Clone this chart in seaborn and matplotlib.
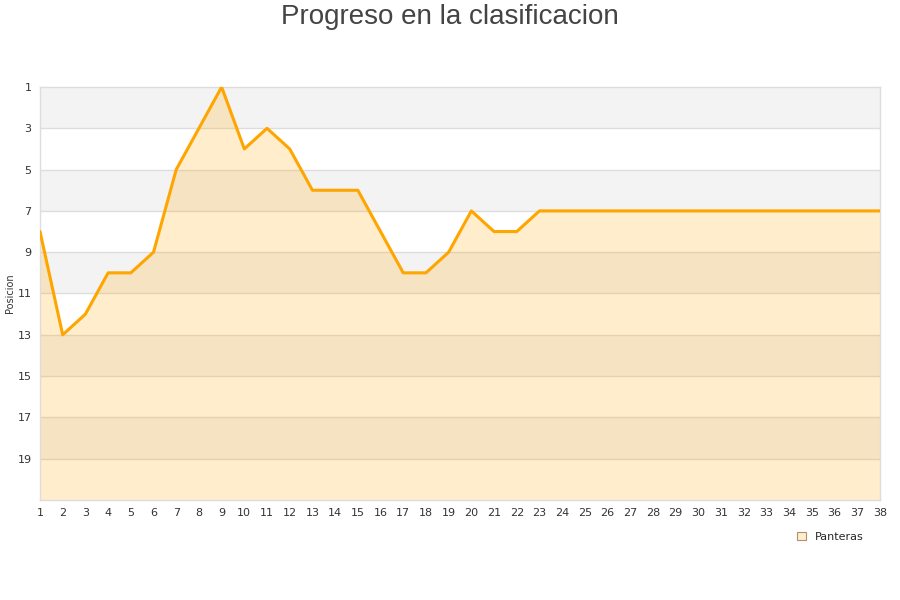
import matplotlib
matplotlib.use("Agg")
import matplotlib.pyplot as plt
import seaborn as sns
import pandas as pd
from matplotlib.patches import Patch

jornadas = list(range(1, 39))
posiciones = [8, 13, 12, 10, 10, 9, 5, 3, 1, 4, 3, 4, 6, 6, 6, 8, 10, 10, 9, 7,
              8, 8, 7, 7, 7, 7, 7, 7, 7, 7, 7, 7, 7, 7, 7, 7, 7, 7]
equipo = "Panteras"
titulo = "Progreso en la clasificacion"
ylabel = "Posicion"
yticks = [1, 3, 5, 7, 9, 11, 13, 15, 17, 19]

df = pd.DataFrame({"Jornada": jornadas, "Posicion": posiciones})

sns.set_theme(style="white")
plt.rcParams['font.family'] = ['DejaVu Sans']

fig = plt.figure(figsize=(9, 6), dpi=100)
ax = fig.add_axes([40/900, 100/600, 840/900, 413/600])

# background bands
for i, lo in enumerate(range(1, 21, 2)):
    if i % 2 == 0:
        ax.axhspan(lo, lo + 2, color="#f3f3f3", zorder=0, lw=0)
for y in yticks[1:]:
    ax.axhline(y, color="#dddddd", lw=1, zorder=1)

ax.fill_between(df["Jornada"], df["Posicion"], 21, color="#FFA500", alpha=0.2, lw=0, zorder=2)
sns.lineplot(data=df, x="Jornada", y="Posicion", ax=ax, color="#FFA500", lw=2.2, zorder=3)

ax.set_xlim(1, 38)
ax.set_ylim(21, 1)
ax.set_yticks(yticks)
ax.set_xticks(jornadas)
ax.tick_params(axis="both", labelsize=8, colors="#333333", length=0, pad=6)
ax.set_xlabel("")
ax.set_ylabel(ylabel, fontsize=7, color="#333333", labelpad=1.5)
for s in ax.spines.values():
    s.set_color("#dddddd")
    s.set_linewidth(1)

fig.suptitle(titulo, fontsize=20, color="#444444", y=0.993, family=["Liberation Sans", "DejaVu Sans"])

handle = Patch(facecolor="#FFEDCC", edgecolor="#B09070", lw=0.8)
fig.legend([handle], [equipo], loc="center", bbox_to_anchor=(830/900, 1 - 537/600),
           frameon=False, fontsize=8, handlelength=0.8, handleheight=0.8, handletextpad=0.8)

fig.savefig("out.png", dpi=100)
